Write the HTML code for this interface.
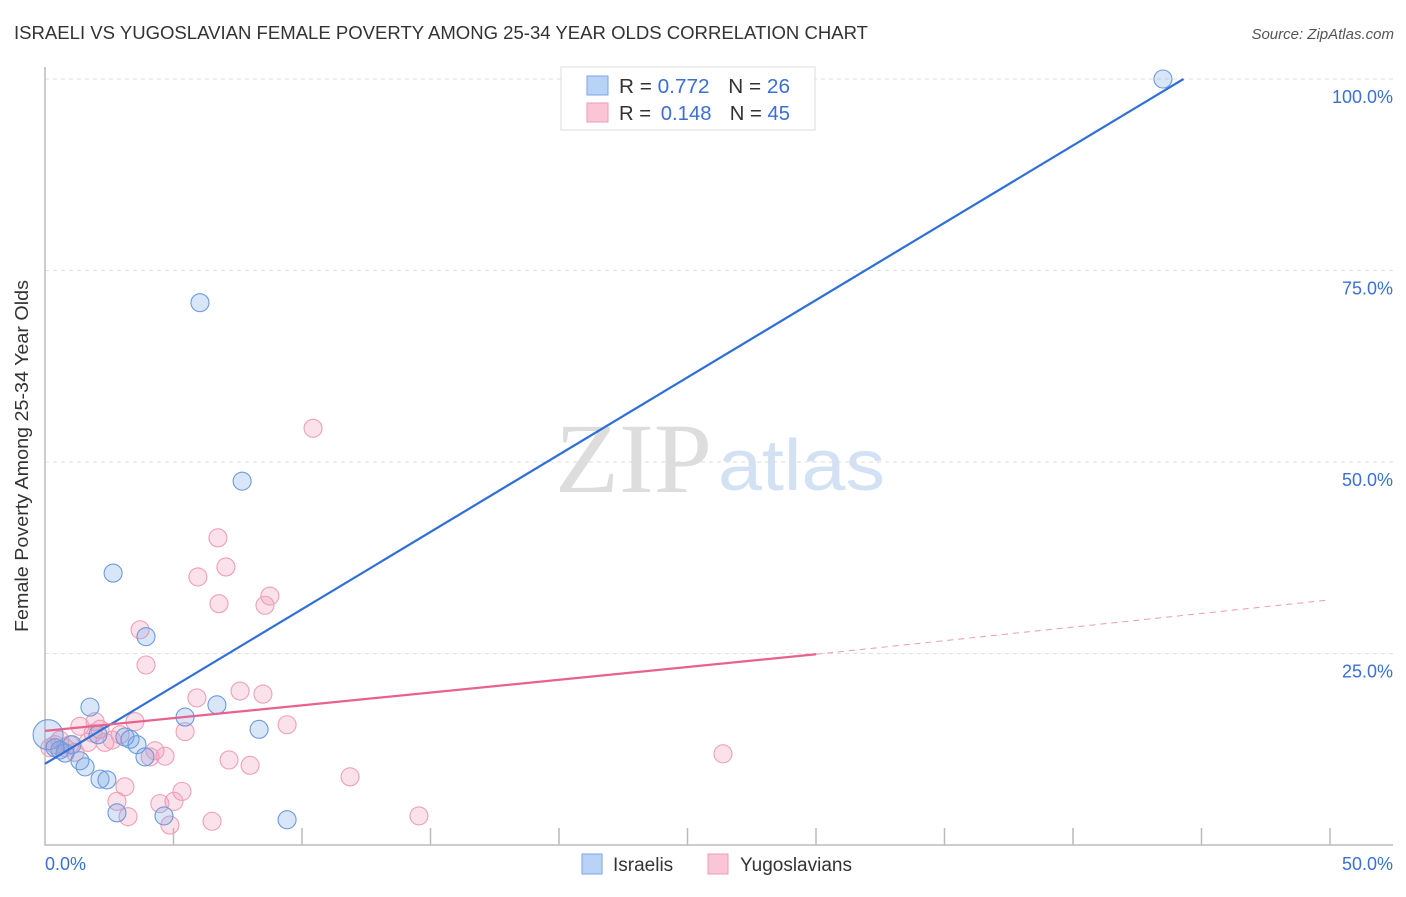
<!DOCTYPE html>
<html><head><meta charset="utf-8"><style>
body{margin:0;background:#fff;font-family:"Liberation Sans",sans-serif}
</style></head><body>
<svg id="c" width="1406" height="892" xmlns="http://www.w3.org/2000/svg" style="font-family:'Liberation Sans',sans-serif">
<text x="14" y="39" font-size="18.5" fill="#333" textLength="854" lengthAdjust="spacingAndGlyphs">ISRAELI VS YUGOSLAVIAN FEMALE POVERTY AMONG 25-34 YEAR OLDS CORRELATION CHART</text>
<text x="1394" y="39" font-size="15" font-style="italic" fill="#555" text-anchor="end">Source: ZipAtlas.com</text>
<text x="28" y="456" font-size="18" fill="#333" text-anchor="middle" textLength="352" lengthAdjust="spacingAndGlyphs" transform="rotate(-90 28 456)">Female Poverty Among 25-34 Year Olds</text>
<text x="555" y="492" font-size="100" fill="#ddd" font-family="Liberation Serif,serif" textLength="157" lengthAdjust="spacingAndGlyphs">ZIP</text>
<text x="718" y="490" font-size="72" fill="#d3e1f5" textLength="167" lengthAdjust="spacingAndGlyphs">atlas</text>
<g id="grid"></g><g id="pts"></g><g id="lines"></g>
<g>
<rect x="561" y="67" width="254" height="63" fill="#fff" stroke="#ddd"/>
<rect x="587" y="76" width="21" height="19" fill="#b8d3f5" stroke="#7aa6e6"/>
<rect x="587" y="103" width="21" height="19" fill="#fac6d6" stroke="#ef9ab5"/>
<text x="619" y="93" font-size="20" fill="#333" textLength="171" lengthAdjust="spacingAndGlyphs">R = <tspan fill="#3b6fd6">0.772</tspan><tspan dx="18">N = </tspan><tspan fill="#3b6fd6">26</tspan></text>
<text x="619" y="120" font-size="20" fill="#333" textLength="171" lengthAdjust="spacingAndGlyphs">R = <tspan fill="#3b6fd6" dx="4">0.148</tspan><tspan dx="18">N = </tspan><tspan fill="#3b6fd6">45</tspan></text>
</g>
<g>
<rect x="582" y="854" width="20" height="20" fill="#b8d3f5" stroke="#7aa6e6"/>
<text x="613" y="871" font-size="19" fill="#333">Israelis</text>
<rect x="708" y="854" width="20" height="20" fill="#fac6d6" stroke="#ef9ab5"/>
<text x="740" y="871" font-size="19" fill="#333">Yugoslavians</text>
</g>
<text x="45" y="870" font-size="18" fill="#3b6fd6">0.0%</text>
<text x="1393" y="870" font-size="18" fill="#3b6fd6" text-anchor="end">50.0%</text>
</svg>
<script>
const yTicks=[25,50,75,100];
const yTickLabels=["25.0%","50.0%","75.0%","100.0%"];
const xTicks=[0,5,10,15,20,25,30,35,40,45,50];
const blueX=[43.5,6.03,7.67,2.65,3.93,1.75,5.45,6.69,8.33,0.12,1.05,0.78,3.11,3.31,3.58,3.89,1.36,1.56,2.14,2.41,2.80,4.63,9.42,0.58,0.39,2.06];
const blueY=[100,70.8,47.5,35.5,27.2,18.0,16.7,18.3,15.1,14.4,13.1,12.0,14.1,13.8,13.1,11.5,11.0,10.2,8.6,8.5,4.2,3.8,3.3,12.4,12.7,14.4];
const pinkX=[10.43,6.73,7.04,5.95,6.77,8.56,8.75,3.70,3.93,5.91,7.59,8.48,9.42,5.45,3.50,1.95,1.36,2.14,2.33,2.61,1.67,4.28,4.67,7.98,7.16,11.87,26.38,3.11,2.80,5.33,5.02,4.47,3.23,4.86,6.50,14.55,0.58,0.39,0.19,0.78,0.97,1.17,2.92,4.09,1.87];
const pinkY=[54.4,40.1,36.3,35.0,31.5,31.3,32.5,28.1,23.5,19.2,20.1,19.7,15.7,14.8,16.1,16.1,15.5,15.1,13.4,13.7,13.4,12.3,11.6,10.4,11.1,8.9,11.9,7.6,5.7,7.0,5.7,5.4,3.7,2.6,3.1,3.8,13.7,13.1,12.7,12.7,13.1,12.1,14.4,11.5,14.6];
const blueTrend=[10.6,100],blueTrendX=[0,44.3];
const pinkTrend=[14.9,24.9,32.0],pinkTrendX=[0,30,50];
const NS="http://www.w3.org/2000/svg";
const X=v=>45+v*25.7, Y=v=>845-v*7.66;
function mk(t,a,p){const e=document.createElementNS(NS,t);for(const k in a)e.setAttribute(k,a[k]);document.getElementById(p).appendChild(e);return e;}
yTicks.forEach((t,i)=>{
 let l=mk('line',{x1:45,x2:1393,y1:Y(t),y2:Y(t),stroke:'#ddd','stroke-dasharray':'4,4'},'grid');
 
 
 let tx=mk('text',{x:1393,y:Y(t)+24,'font-size':18,fill:'#3b6fd6','text-anchor':'end'},'grid');tx.textContent=yTickLabels[i];
 
 
});
let ax=mk('path',{d:'M45 67V845H1393',fill:'none',stroke:'#bbb','stroke-width':1.5},'grid');


xTicks.forEach(t=>{if(t===0)return;let l=mk('line',{x1:X(t),x2:X(t),y1:828,y2:845,stroke:'#bbb','stroke-width':1.5},'grid');
 
 });
function pts(xs,ys,f,s,n){xs.forEach((x,i)=>{const big=(x<0.2&&ys[i]>14);let c=mk('circle',{cx:X(x),cy:Y(ys[i]),r:big?15:9,fill:f,stroke:s,'stroke-width':1.1},'pts');
 
 });}
pts(pinkX,pinkY,'rgba(242,150,180,0.28)','#ee9fb8','yugoslavian-point');
pts(blueX,blueY,'rgba(120,165,230,0.28)','#6b9ade','israeli-point');
let b=mk('line',{x1:X(blueTrendX[0]),y1:Y(blueTrend[0]),x2:X(blueTrendX[1]),y2:Y(blueTrend[1]),stroke:'#2f6fd6','stroke-width':2.2},'lines');


let p=mk('line',{x1:X(pinkTrendX[0]),y1:Y(pinkTrend[0]),x2:X(pinkTrendX[1]),y2:Y(pinkTrend[1]),stroke:'#e8628f','stroke-width':2.2},'lines');


let pd=mk('line',{x1:X(pinkTrendX[1]),y1:Y(pinkTrend[1]),x2:X(pinkTrendX[2]),y2:Y(pinkTrend[2]),stroke:'#eb9ab4','stroke-width':1,'stroke-dasharray':'6,5'},'lines');


</script>
</body></html>
